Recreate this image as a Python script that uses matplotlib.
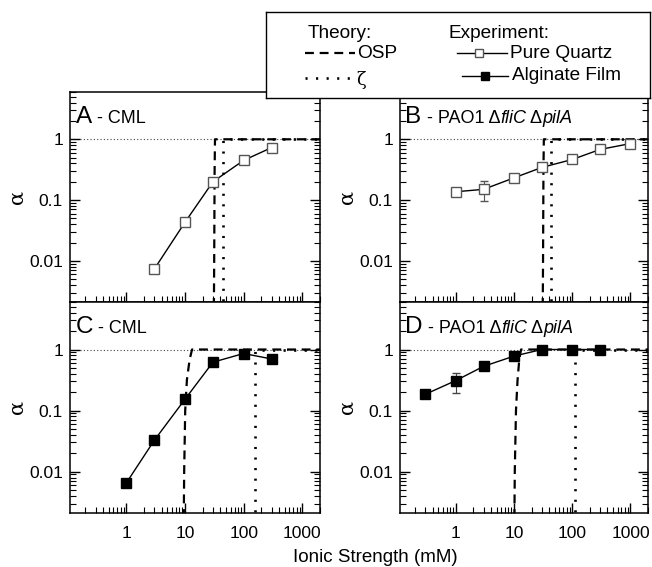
import numpy as np
import matplotlib
matplotlib.use("Agg")
import matplotlib.pyplot as plt
from matplotlib.lines import Line2D
from matplotlib.ticker import NullFormatter, FixedLocator
from matplotlib.offsetbox import TextArea, HPacker, AnchoredOffsetbox

plt.rcParams['font.family'] = ['Liberation Sans', 'DejaVu Sans']

# ============================================
# Data
# ============================================

# Experiment: pure quartz (open squares)
quartz_A_x = [3, 10, 30, 100, 300]
quartz_A_y = [0.0073, 0.043, 0.20, 0.45, 0.73]

quartz_B_x = [1, 3, 10, 30, 100, 300, 1000]
quartz_B_y = [0.137, 0.15, 0.232, 0.344, 0.465, 0.68, 0.85]
quartz_B_lo = [0, 0.054, 0, 0, 0, 0.05, 0]
quartz_B_hi = [0, 0.055, 0, 0, 0, 0.05, 0]

# Experiment: alginate film (filled squares)
alg_C_x = [1, 3, 10, 30, 100, 300]
alg_C_y = [0.0065, 0.0325, 0.153, 0.62, 0.86, 0.70]

alg_D_x = [0.3, 1, 3, 10, 30, 100, 300]
alg_D_y = [0.185, 0.31, 0.53, 0.78, 1.0, 1.0, 1.0]
alg_D_lo = [0, 0.113, 0, 0, 0, 0, 0]
alg_D_hi = [0, 0.11, 0, 0, 0, 0, 0]

# Theory: OSP (dashed) and zeta (dotted)
osp_A_x = [31, 31.5, 32, 32.5, 2000]
osp_A_y = [1e-3, 0.01, 0.3, 1, 1]
zeta_A_x = [44, 44, 2000]
zeta_A_y = [1e-3, 1, 1]

osp_B_x = [31, 31.5, 32, 32.5, 2000]
osp_B_y = [1e-3, 0.01, 0.3, 1, 1]
zeta_B_x = [43, 43, 2000]
zeta_B_y = [1e-3, 1, 1]

osp_C_x = [9.5, 9.7, 10.1, 10.8, 12, 13.2, 2000]
osp_C_y = [1e-3, 0.01, 0.1, 0.32, 0.68, 1, 1]
zeta_C_x = [158, 158, 2000]
zeta_C_y = [1e-3, 1, 1]

osp_D_x = [10.1, 10.3, 10.8, 11.5, 12.3, 13.2, 2000]
osp_D_y = [1e-3, 0.01, 0.1, 0.32, 0.68, 1, 1]
zeta_D_x = [112, 112, 2000]
zeta_D_y = [1e-3, 1, 1]

# ============================================
# Layout
# ============================================

W, H = 652, 567
fig = plt.figure(figsize=(W / 100, H / 100), dpi=100)


def px_axes(x0, y0, x1, y1):
    return fig.add_axes([x0 / W, 1 - y1 / H, (x1 - x0) / W, (y1 - y0) / H])


axA = px_axes(70, 92, 320, 302)
axB = px_axes(400, 92, 648, 302)
axC = px_axes(70, 302, 320, 513)
axD = px_axes(400, 302, 648, 513)

dash_style = (0, (4, 2.6))
dot_style = (0, (0.8, 3.2))

# minor tick positions: 2..9 within each decade
minor_x = [m * 10.0 ** e for e in range(-1, 4) for m in range(2, 10)]
minor_y = [m * 10.0 ** e for e in range(-3, 1) for m in range(2, 10)]


def style_axes(ax, bottom_labels):
    ax.set_xscale('log')
    ax.set_yscale('log')
    ax.set_xlim(0.11, 2000)
    ax.set_ylim(0.0021, 6)
    ax.set_yticks([0.01, 0.1, 1])
    ax.set_yticklabels(['0.01', '0.1', '1'])
    ax.set_xticks([1, 10, 100, 1000])
    if bottom_labels:
        ax.set_xticklabels(['1', '10', '100', '1000'])
    else:
        ax.set_xticklabels([])
    ax.xaxis.set_minor_locator(FixedLocator(minor_x))
    ax.yaxis.set_minor_locator(FixedLocator(minor_y))
    ax.xaxis.set_minor_formatter(NullFormatter())
    ax.yaxis.set_minor_formatter(NullFormatter())
    ax.tick_params(which='both', direction='in', top=False, right=True,
                   labelsize=12.6, color='black')
    ax.tick_params(which='major', length=7, width=1.0, pad=5)
    ax.tick_params(which='minor', length=4, width=0.8)
    ax.tick_params(axis='x', which='major', pad=9)
    for s in ax.spines.values():
        s.set_linewidth(1.1)
    ax.set_ylabel('α', family='DejaVu Serif', fontsize=15, labelpad=2)
    ax.axhline(1, color='#444444', lw=0.8, ls=(0, (1, 2)), zorder=1)


def draw_theory(ax, ox, oy, zx, zy):
    ax.plot(ox, oy, color='black', lw=1.6, ls=dash_style, zorder=2)
    ax.plot(zx, zy, color='black', lw=1.9, ls=dot_style, zorder=2)


def panel_title(ax, letter, rest):
    parts = [TextArea(letter, textprops=dict(size=17.5))]
    for txt, ital in rest:
        parts.append(TextArea(txt, textprops=dict(size=13,
                                                   style='italic' if ital else 'normal')))
    box = HPacker(children=parts, align='baseline', pad=0, sep=0)
    anc = AnchoredOffsetbox(loc='upper left', child=box, frameon=False,
                            bbox_to_anchor=(0.022, 0.935),
                            bbox_transform=ax.transAxes, borderpad=0, pad=0)
    ax.add_artist(anc)


for ax, bl in [(axA, False), (axB, False), (axC, True), (axD, True)]:
    style_axes(ax, bl)

# A
draw_theory(axA, osp_A_x, osp_A_y, zeta_A_x, zeta_A_y)
axA.plot(quartz_A_x, quartz_A_y, color='black', lw=1.0, marker='s', ms=7,
         mfc='white', mec='#555555', mew=1.0, zorder=3)

# B
draw_theory(axB, osp_B_x, osp_B_y, zeta_B_x, zeta_B_y)
axB.errorbar(quartz_B_x, quartz_B_y, yerr=[quartz_B_lo, quartz_B_hi], color='black',
             lw=1.0, marker='s', ms=7, mfc='white', mec='#555555', mew=1.0,
             ecolor='#555555', elinewidth=0.8, capsize=3, zorder=3)

# C
draw_theory(axC, osp_C_x, osp_C_y, zeta_C_x, zeta_C_y)
axC.plot(alg_C_x, alg_C_y, color='black', lw=1.0, marker='s', ms=7,
         mfc='black', mec='black', zorder=3)

# D
draw_theory(axD, osp_D_x, osp_D_y, zeta_D_x, zeta_D_y)
axD.errorbar(alg_D_x, alg_D_y, yerr=[alg_D_lo, alg_D_hi], color='black',
             lw=1.0, marker='s', ms=7, mfc='black', mec='black',
             ecolor='#444444', elinewidth=0.8, capsize=3, zorder=3)

panel_title(axA, 'A', [(' - CML', False)])
panel_title(axC, 'C', [(' - CML', False)])
panel_title(axB, 'B', [(' - PAO1 Δ', False), ('fliC', True), (' Δ', False), ('pilA', True)])
panel_title(axD, 'D', [(' - PAO1 Δ', False), ('fliC', True), (' Δ', False), ('pilA', True)])

fig.text(375 / W, 1 - 558 / H, 'Ionic Strength (mM)', ha='center', va='center', fontsize=13.5)

# ============================================
# Legend box
# ============================================

leg = px_axes(266, 12, 650, 98)
leg.set_xlim(266, 650)
leg.set_ylim(98, 12)
leg.set_xticks([])
leg.set_yticks([])
for s in leg.spines.values():
    s.set_linewidth(1.0)
leg.set_zorder(10)
leg.patch.set_facecolor('white')

fs = 13.7
leg.text(308, 33, 'Theory:', fontsize=fs, va='center')
leg.add_line(Line2D([305, 355], [53, 53], color='black', lw=1.6, ls=dash_style))
leg.text(357, 53, 'OSP', fontsize=fs, va='center')
leg.add_line(Line2D([305, 353], [78, 78], color='black', lw=1.9, ls=dot_style))
leg.text(356, 80, 'ζ', fontsize=fs - 1, va='center', family='DejaVu Serif')

leg.text(449, 33, 'Experiment:', fontsize=fs, va='center')
leg.add_line(Line2D([457, 507], [53, 53], color='black', lw=1.0))
leg.add_line(Line2D([479], [53], marker='s', ms=6, mfc='white', mec='#555555', mew=1.0, ls='none'))
leg.text(510, 53, 'Pure Quartz', fontsize=fs, va='center')
leg.add_line(Line2D([462, 508], [76, 76], color='black', lw=1.0))
leg.add_line(Line2D([485], [76], marker='s', ms=6, mfc='black', mec='black', ls='none'))
leg.text(512, 76, 'Alginate Film', fontsize=fs, va='center')

fig.savefig('out.png', dpi=100)
